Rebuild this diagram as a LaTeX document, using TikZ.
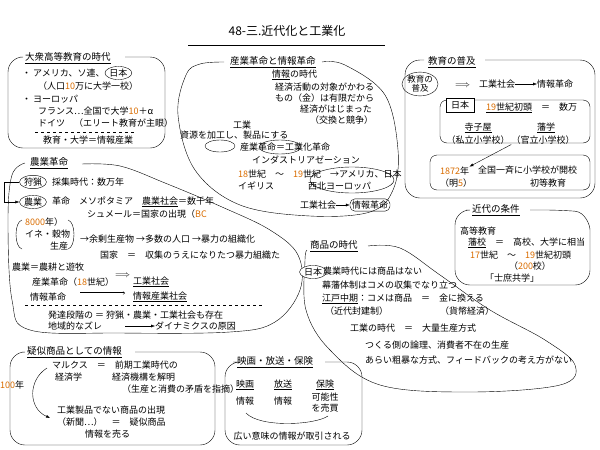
\documentclass[tikz,border=0pt]{standalone}
\usepackage{fontspec}
\setmainfont{Noto Sans CJK JP}
\usetikzlibrary{arrows.meta,shapes.geometric,positioning}
\newcommand{\ul}[1]{\underline{#1}}
\newcommand{\nm}[1]{\textcolor{orange!85!black}{#1}}
\begin{document}
\begin{tikzpicture}[x=1pt,y=-1pt,font=\fontsize{9}{11}\selectfont,
  txt/.style={anchor=west,inner sep=0pt},
  ctr/.style={inner sep=0pt,align=center},
  head/.style={anchor=west,inner sep=0pt,font=\fontsize{9.5}{11}\selectfont},
  oval/.style={draw,ellipse,inner sep=0.5pt},
  rbox/.style={draw,rounded corners=5pt,inner sep=2pt},
  arr/.style={-{Latex[length=4pt]}}]
\useasboundingbox (0,0) rectangle (600,450);
% title
\node[ctr,font=\fontsize{12}{14}\selectfont] (title) at (287,31) {48-三.近代化と工業化};
\draw (188,45) -- (385,45);

% mass higher education
\node[head] (h1) at (25,58) {\ul{大衆高等教育の時代}};
\draw[rounded corners=15pt] (125,57) -| (165,148) -| (8,57) -- (20,57);
\node[txt] (a1) at (22,73) {・ アメリカ、ソ連、};
\node[oval,right=0pt of a1] (jp1) {日本};
\node[txt] at (38,86) {（人口\nm{10}万に大学一校）};
\node[txt] at (22,99) {・ ヨーロッパ};
\node[txt] at (38,111) {フランス…全国で大学\nm{10}＋α};
\node[txt] at (38,123) {ドイツ　（エリート教育が主眼）};
\draw[dashed] (35,132) -- (135,132);
\node[ctr] at (88,140) {教育・大学＝情報産業};

% industrial and information revolution
\node[head] (h2) at (230,62) {\ul{産業革命と情報革命}};
\draw plot[smooth,tension=0.6] coordinates {(322,62)(345,65)(385,95)(398,150)(393,190)(370,212)(310,216)(240,205)(195,170)(178,115)(186,75)(200,64)(224,62)};
\node[txt] at (272,75) {\ul{情報}の時代};
\node[txt] at (275,87) {経済活動の対象がかわる};
\node[txt] at (275,98) {もの（金）は有限だから};
\node[txt] at (300,109) {経済がはじまった};
\node[txt] at (310,120) {（交換と競争）};
\node[txt] at (233,125) {工業};
\node[txt] at (180,135) {資源を加工し、製品にする};
\draw (220,146) ellipse (15 and 6);
\node[txt] (ir) at (240,147) {産業革命＝工業化革命};
\draw (280,147) ellipse (21 and 7);
\node[txt] at (252,160) {インダストリアゼーション};
\node[txt] at (238,174) {\nm{18}世紀　～　\nm{19}世紀　→アメリカ、日本};
\node[txt] at (238,186) {イギリス};
\node[txt] at (308,186) {西北ヨーロッパ};
\draw (352,180) ellipse (42 and 13);
\node[txt] (ind) at (300,205) {工業社会};
\node[rbox] (info) at (370,205) {情報革命};
\draw[arr] (ind) -- (info);

% spread of education
\node[head] (h3) at (428,62) {\ul{教育の普及}};
\draw[rounded corners=15pt] (485,60) -| (595,198) -| (405,60) -- (424,60);
\node[oval,ctr,align=center,font=\fontsize{8.5}{9}\selectfont] (edu) at (420,84) {教育の\\普及};
\node[txt] (eind) at (455,84) {$\Longrightarrow$　工業社会};
\node[txt] (einfo) at (537,84) {情報革命};
\draw[arr] (eind) -- (einfo);
\draw[rounded corners=7pt] (440,100) rectangle (590,143);
\node[draw,fill=white,minimum width=28pt,minimum height=14pt,inner sep=0pt] (jp2) at (460,105) {日本};
\node[txt] at (486,108) {\ul{\nm{19}世紀初頭}　＝　数万};
\node[ctr] (tera) at (478,128) {\ul{寺子屋}};
\node[ctr] at (546,128) {\ul{藩学}};
\node[ctr] at (478,140) {（私立小学校）};
\node[ctr] (hang) at (543,140) {（官立小学校）};
\draw[rounded corners=7pt] (430,155) rectangle (590,190);
\node[txt] (y1872) at (440,171) {\nm{1872}年};
\node[txt] at (478,170) {全国一斉に小学校が開校};
\node[txt] at (440,183) {（明\nm{5}）};
\node[txt] at (530,183) {初等教育};
\draw[arr] (hang.south west) -- (y1872.north east);

% agricultural revolution
\node[head] (h4) at (30,163) {\ul{農業革命}};
\draw plot[smooth,tension=0.6] coordinates {(82,164)(120,166)(165,183)(222,207)(270,230)(298,255)(300,290)(275,322)(230,332)(120,333)(30,330)(12,300)(8,220)(12,175)(25,163)};
\node[oval] (hunt) at (33,182) {狩猟};
\node[txt] at (52,182) {採集時代：数万年};
\node[oval] (agri) at (33,202) {農業};
\node[txt] at (52,202) {革命　メソポタミア　\ul{農業社会}＝数千年};
\draw[arr] (hunt.west) -- ++(-15,0) |- (agri.west);
\node[txt] at (87,214) {シュメール＝国家の出現（\nm{BC}};
\node[txt] at (25,222) {\nm{8000}年）};
\node[txt] at (25,234) {イネ・穀物};
\node[txt] at (50,246) {生産};
\draw (22,220) .. controls (14,222) and (14,247) .. (22,249);
\draw (68,220) .. controls (76,222) and (76,247) .. (68,249);
\node[txt] at (80,239) {→余剰生産物 →多数の人口 →暴力の組織化};
\node[txt] at (100,255) {国家　＝　収集のうえになりたつ暴力組織た};
\node[txt] at (12,267) {農業＝農耕と遊牧};
\node[txt] (ir2) at (32,282) {産業革命（\nm{18}世紀）};
\node[txt] at (115,276) {$\Longrightarrow$};
\node[txt] (ind2) at (133,282) {\ul{工業社会}};
\node[txt] (inf2) at (30,297) {情報革命};
\node[txt] (ins2) at (133,297) {\ul{情報産業社会}};
\draw[-{Implies},double] (80,293) -- (125,293);
\draw[dashed] (25,305) -- (262,305);
\node[txt] at (48,315) {発達段階の ＝ 狩猟・農業・工業社会も存在};
\node[txt] (gap) at (48,326) {地域的なズレ};
\node[txt] (dyn) at (155,326) {ダイナミクスの原因};
\draw[arr] (125,326) -- (dyn);

% conditions of modernity
\node[head] (h5) at (472,210) {\ul{近代の条件}};
\draw[rounded corners=15pt] (530,210) -- (560,210) .. controls (585,212) and (590,225) .. (590,245) |- (455,285) |- (466,210);
\node[txt] at (460,231) {高等教育};
\node[txt] at (468,243) {\ul{藩校}　＝　高校、大学に相当};
\node[txt] at (470,255) {\nm{17}世紀　～　\nm{19}世紀初頭};
\node[ctr] at (530,266) {（\nm{200}校）};
\node[ctr] at (512,278) {「士庶共学」};

% age of commodities
\node[head] (h6) at (310,246) {\ul{商品の時代}};
\draw plot[smooth,tension=0.6] coordinates {(368,246)(400,248)(440,275)(490,310)(545,340)(575,365)(560,385)(470,392)(380,385)(330,350)(306,310)(305,260)(307,250)};
\node[oval,fill=white] (jp3) at (313,272) {日本};
\node[txt] at (323,271) {農業時代には商品はない};
\node[txt] at (322,285) {幕藩体制はコメの収集でなり立つ};
\node[txt] at (322,299) {\ul{江戸中期}：コメは商品　＝　金に換える};
\node[txt] at (325,311) {（近代封建制）};
\node[txt] at (440,311) {（貨幣経済）};
\node[txt] at (350,328) {工業の時代　＝　大量生産方式};
\node[txt] at (365,345) {つくる側の論理、消費者不在の生産};
\node[txt] at (365,360) {あらい粗暴な方式、フィードバックの考え方がない};

% information as pseudo-commodity
\node[head] (h7) at (27,352) {\ul{疑似商品としての情報}};
\draw[rounded corners=15pt] (135,352) -| (215,445) -| (10,352) -- (22,352);
\node[txt] (marx) at (52,365) {マルクス　＝　前期工業時代の};
\node[txt] at (55,377) {経済学};
\node[txt] at (112,377) {経済機構を解明};
\node[txt] at (122,389) {（生産と消費の矛盾を指摘）};
\node[txt] at (0,385) {\nm{100}年};
\node[txt] (newc) at (57,410) {工業製品でない商品の出現};
\node[txt] at (57,422) {（新聞…）　＝　疑似商品};
\node[txt] at (85,434) {情報を売る};
\draw[arr] (47,368) .. controls (28,380) and (28,408) .. (50,418);

% film, broadcast, insurance
\node[head] (h8) at (237,362) {\ul{映画・放送・保険}};
\draw[rounded corners=15pt] (325,362) -| (362,445) -| (225,362) -- (233,362);
\node[ctr] at (245,385) {\ul{映画}};
\node[ctr] at (283,385) {\ul{放送}};
\node[ctr] at (325,385) {\ul{保険}};
\node[ctr] (inf8a) at (245,401) {情報};
\node[ctr] at (283,401) {情報};
\node[ctr,align=center] (ins8) at (325,403) {可能性\\を売買};
\draw (246,413) .. controls (260,428) and (315,425) .. (328,416);
\node[ctr] at (292,436) {広い意味の情報が取引される};
\end{tikzpicture}
\end{document}
